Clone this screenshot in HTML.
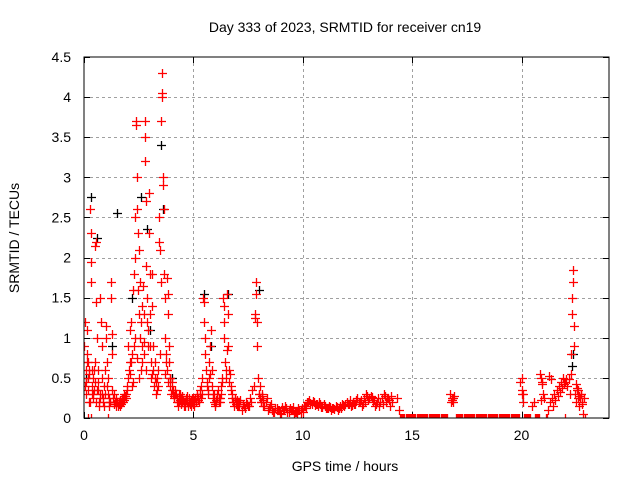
<!DOCTYPE html>
<html><head><meta charset="utf-8"><style>
body{margin:0;background:#fff}
svg{display:block;font-family:"Liberation Sans",sans-serif}
</style></head><body>
<svg id="chart" width="640" height="480" xmlns="http://www.w3.org/2000/svg">
<rect width="640" height="480" fill="#fff"/>
<text x="345" y="32" text-anchor="middle" font-size="14">Day 333 of 2023, SRMTID for receiver cn19</text>
<text x="345" y="471" text-anchor="middle" font-size="14">GPS time / hours</text>
<text transform="translate(19,238) rotate(-90)" text-anchor="middle" font-size="14">SRMTID / TECUs</text>
<g id="grid"></g>
<g id="ticks"></g>
<defs><clipPath id="clip"><rect x="84" y="57" width="525" height="361"/></clipPath></defs>
<g id="marks" clip-path="url(#clip)"></g>
<rect x="84" y="57" width="525" height="361" fill="none" stroke="#000" stroke-width="1"/>
</svg>
<script>
const xTicks=[0,5,10,15,20];
const yTicks=[0,0.5,1,1.5,2,2.5,3,3.5,4,4.5];
const yTickLabels=["0","0.5","1","1.5","2","2.5","3","3.5","4","4.5"];
const redT=[0.02,0.03,0.05,0.07,0.1,0.12,0.15,0.17,0.2,0.22,0.25,0.28,0.3,0.32,0.33,0.35,0.38,0.4,0.42,0.45,0.47,0.5,0.52,0.55,0.57,0.6,0.62,0.65,0.68,0.7,0.72,0.75,0.78,0.8,0.82,0.85,0.88,0.9,0.95,1.0,1.02,1.05,1.08,1.1,1.12,1.15,1.2,1.22,1.25,1.28,1.3,1.35,1.4,1.45,1.5,1.55,1.6,1.65,1.7,1.75,1.8,1.85,1.9,1.95,2.0,2.02,2.05,2.1,2.12,2.15,2.18,2.2,2.25,2.28,2.3,2.32,2.35,2.37,2.38,2.4,2.42,2.45,2.47,2.5,2.52,2.55,2.57,2.6,2.62,2.65,2.67,2.7,2.72,2.75,2.77,2.78,2.8,2.82,2.85,2.87,2.9,2.92,2.95,2.97,3.0,3.02,3.05,3.07,3.1,3.12,3.15,3.17,3.2,3.25,3.3,3.35,3.4,3.42,3.45,3.47,3.5,3.52,3.55,3.57,3.58,3.6,3.62,3.65,3.67,3.7,3.72,3.75,3.78,3.8,3.82,3.85,3.87,3.9,3.92,3.95,4.0,4.05,4.1,4.15,4.2,4.25,4.3,4.35,4.4,4.45,4.5,4.55,4.6,4.65,4.7,4.75,4.8,4.85,4.9,4.95,5.0,5.05,5.1,5.15,5.2,5.25,5.3,5.35,5.4,5.45,5.47,5.5,5.52,5.55,5.58,5.6,5.65,5.7,5.72,5.75,5.8,5.85,5.9,5.95,6.0,6.05,6.1,6.15,6.2,6.25,6.3,6.35,6.38,6.4,6.42,6.45,6.5,6.55,6.58,6.6,6.65,6.7,6.75,6.8,6.85,6.9,6.95,7.0,7.05,7.1,7.2,7.3,7.4,7.5,7.6,7.7,7.75,7.8,7.82,7.85,7.87,7.9,7.92,7.95,8.0,8.05,8.1,8.15,8.2,8.3,8.4,8.5,8.6,8.7,8.8,8.9,9.0,9.1,9.2,9.3,9.4,9.5,9.6,9.7,9.8,9.9,10.0,10.1,10.2,10.3,10.4,10.5,10.6,10.7,10.8,10.9,11.0,11.1,11.2,11.3,11.4,11.5,11.6,11.7,11.8,11.9,12.0,12.1,12.2,12.3,12.4,12.5,12.6,12.7,12.8,12.9,13.0,13.1,13.2,13.3,13.4,13.5,13.6,13.7,13.8,13.9,14.0,14.1,14.3,14.4,16.75,16.8,16.85,16.9,19.95,20.0,20.02,20.05,20.07,20.5,20.55,20.85,20.9,20.95,21.0,21.05,21.2,21.3,21.4,21.5,21.6,21.7,21.8,21.9,22.0,22.1,22.2,22.25,22.27,22.3,22.32,22.35,22.37,22.4,22.42,22.45,22.5,22.55,22.6,22.65,22.7,22.75,22.8,22.85];
const redV=[0.9,1.2,0.4,0.3,0.6,0.8,1.1,0.5,0.7,0.2,0.6,2.6,2.3,1.95,1.7,0.4,0.3,0.5,0.25,0.35,0.6,0.7,2.15,2.2,1.45,1.0,0.45,0.35,0.2,0.15,0.3,1.5,1.2,0.9,0.5,0.25,0.2,0.4,0.6,1.0,1.15,0.7,0.5,0.3,0.2,0.15,0.2,1.7,1.5,1.05,0.8,0.3,0.2,0.15,0.2,0.15,0.2,0.15,0.2,0.25,0.2,0.3,0.25,0.35,0.5,0.9,0.6,1.1,0.7,1.2,0.4,0.8,1.6,1.8,0.9,2.5,2.0,3.7,3.65,3.0,2.6,2.3,1.6,1.3,2.1,1.7,1.0,1.2,0.6,0.9,1.4,1.65,0.8,1.3,3.7,3.5,3.2,2.7,1.9,1.5,1.2,0.9,2.8,2.3,1.8,1.3,0.7,0.5,1.8,1.4,0.9,0.6,0.4,0.5,0.3,0.35,0.6,2.2,2.5,2.1,1.7,3.7,4.3,4.0,4.05,3.0,2.9,2.6,1.8,1.5,1.0,0.8,0.6,1.75,1.55,1.3,0.9,0.7,0.5,0.4,0.35,0.3,0.25,0.35,0.3,0.2,0.15,0.2,0.3,0.25,0.2,0.15,0.2,0.25,0.2,0.15,0.25,0.2,0.15,0.2,0.25,0.15,0.2,0.3,0.25,0.2,0.3,0.4,0.5,1.5,1.45,1.2,1.0,0.8,0.6,0.4,0.3,0.5,0.7,0.9,1.1,0.6,0.3,0.2,0.15,0.2,0.3,0.2,0.25,0.4,0.5,1.5,1.4,1.2,1.0,0.7,0.5,1.55,1.3,0.9,0.6,0.4,0.3,0.2,0.15,0.25,0.2,0.15,0.2,0.15,0.1,0.15,0.2,0.15,0.25,0.35,0.4,1.3,1.25,1.7,1.55,1.2,0.9,0.5,0.3,0.25,0.2,0.3,0.15,0.2,0.1,0.15,0.1,0.08,0.12,0.1,0.05,0.1,0.15,0.08,0.12,0.1,0.05,0.08,0.12,0.1,0.08,0.15,0.2,0.22,0.18,0.2,0.17,0.15,0.18,0.14,0.15,0.12,0.15,0.1,0.12,0.15,0.1,0.15,0.18,0.15,0.2,0.17,0.15,0.2,0.18,0.25,0.2,0.15,0.25,0.3,0.22,0.28,0.2,0.15,0.2,0.15,0.25,0.3,0.2,0.25,0.15,0.2,0.25,0.1,0.3,0.25,0.2,0.28,0.45,0.5,0.35,0.3,0.2,0.15,0.2,0.55,0.5,0.45,0.3,0.25,0.1,0.2,0.25,0.3,0.35,0.4,0.45,0.5,0.45,0.4,0.3,0.55,0.8,1.3,1.5,1.7,1.85,1.15,0.9,0.3,0.2,0.35,0.25,0.15,0.3,0.2,0.05,0.25];
const redT2=[0.08,0.13,0.18,0.23,0.27,0.36,0.43,0.48,0.53,0.58,0.63,0.73,0.83,0.93,0.97,1.07,1.13,1.18,1.27,1.33,1.38,1.43,1.48,1.53,1.58,1.63,1.68,1.73,1.78,1.83,1.88,1.93,1.98,2.08,2.13,2.23,2.33,2.43,2.53,2.63,2.73,2.83,2.93,3.03,3.13,3.23,3.28,3.33,3.38,3.48,3.68,3.73,3.83,3.93,3.97,4.03,4.08,4.13,4.18,4.23,4.28,4.33,4.38,4.43,4.48,4.53,4.58,4.63,4.68,4.73,4.78,4.83,4.88,4.93,4.98,5.03,5.08,5.13,5.18,5.23,5.28,5.33,5.38,5.63,5.68,5.78,5.83,5.88,5.93,5.98,6.03,6.08,6.13,6.18,6.23,6.28,6.33,6.48,6.53,6.63,6.68,6.73,6.78,6.83,6.88,6.93,6.98,7.03,7.08,7.15,7.25,7.35,7.45,7.55,7.65,7.98,8.03,8.08,8.13,8.18,8.25,8.35,8.45,8.55,8.65,8.75,8.85,8.95,9.05,9.15,9.25,9.35,9.45,9.55,9.65,9.75,9.85,9.95,10.05,10.15,10.25,10.35,10.45,10.55,10.65,10.75,10.85,10.95,11.05,11.15,11.25,11.35,11.45,11.55,11.65,11.75,11.85,11.95,12.05,12.15,12.25,12.35,12.45,12.55,12.65,12.75,12.85,12.95,13.05,13.15,13.25,13.35,13.45,13.55,13.65,13.75,13.85,13.95,14.05,16.78,16.82,16.88,20.03,20.88,20.92,21.25,21.35,21.45,21.55,21.65,21.75,21.85,21.95,22.05,22.15,22.48,22.52,22.58,22.62,22.68,22.72,22.78];
const redV2=[0.45,0.7,0.35,0.55,0.2,0.6,0.3,0.45,0.2,0.35,0.6,0.25,0.3,0.15,0.3,0.4,0.25,0.2,0.35,0.25,0.18,0.2,0.25,0.2,0.18,0.22,0.18,0.2,0.25,0.22,0.28,0.3,0.4,0.55,0.7,0.45,1.0,0.75,0.5,0.7,0.95,0.6,1.1,0.9,0.55,0.7,0.45,0.5,0.4,0.8,0.55,0.7,0.45,0.5,0.3,0.45,0.35,0.28,0.3,0.25,0.2,0.3,0.22,0.18,0.28,0.22,0.2,0.15,0.22,0.28,0.2,0.18,0.22,0.25,0.18,0.22,0.25,0.2,0.28,0.22,0.35,0.25,0.3,0.45,0.35,0.55,0.4,0.25,0.3,0.18,0.22,0.25,0.35,0.25,0.2,0.3,0.45,0.6,0.85,0.45,0.55,0.35,0.25,0.2,0.25,0.18,0.22,0.15,0.2,0.22,0.18,0.12,0.18,0.15,0.2,0.3,0.4,0.2,0.28,0.22,0.15,0.25,0.12,0.18,0.08,0.12,0.1,0.06,0.14,0.1,0.12,0.07,0.1,0.14,0.08,0.06,0.1,0.12,0.15,0.12,0.2,0.19,0.21,0.16,0.18,0.2,0.14,0.17,0.13,0.12,0.14,0.13,0.11,0.14,0.13,0.12,0.16,0.17,0.18,0.22,0.16,0.18,0.22,0.2,0.23,0.18,0.2,0.27,0.25,0.26,0.23,0.18,0.25,0.2,0.18,0.28,0.25,0.22,0.28,0.2,0.22,0.25,0.3,0.22,0.42,0.52,0.48,0.15,0.22,0.28,0.33,0.38,0.42,0.48,0.48,0.43,0.38,0.35,0.28,0.25,0.3,0.18,0.22,0.28,0.15];
const zeroT=[0.2,0.3,1.1,9.9,14.45,14.5,14.55,14.6,14.65,14.7,14.75,14.8,14.85,14.9,14.95,15.0,15.05,15.1,15.15,15.2,15.25,15.3,15.35,15.4,15.45,15.5,15.55,15.6,15.65,15.7,15.75,15.8,15.85,15.9,15.95,16.0,16.05,16.1,16.15,16.2,16.25,16.3,16.35,16.4,16.45,16.5,16.55,16.6,17.0,17.05,17.1,17.15,17.2,17.25,17.3,17.35,17.4,17.45,17.5,17.55,17.6,17.65,17.7,17.75,17.8,17.85,17.9,17.95,18.0,18.05,18.1,18.15,18.2,18.25,18.3,18.35,18.4,18.45,18.5,18.55,18.6,18.65,18.7,18.75,18.8,18.85,18.9,18.95,19.0,19.05,19.1,19.15,19.2,19.25,19.3,19.35,19.4,19.45,19.5,19.55,19.6,19.65,19.7,19.75,19.8,19.85,19.9,20.1,20.15,20.2,20.25,20.3,20.35,20.4,20.6,20.65,20.7,20.75,20.8,21.1,21.15,22.0,22.9];
const blackT=[0.3,0.6,1.5,2.6,2.9,3.5,3.6,5.5,6.6,8.0,22.3,22.35,0.1,1.3,2.2,3.0,4.0,5.8];
const blackV=[2.75,2.25,2.55,2.75,2.35,3.4,2.6,1.55,1.55,1.6,0.65,0.8,0.5,0.9,1.5,1.1,0.5,0.9];

const NS="http://www.w3.org/2000/svg";
const X0=84,X1=609,Y0=418,Y1=57;
function xs(t){return X0+(t/24)*(X1-X0);}
function ys(v){return Y0-(v/4.5)*(Y0-Y1);}
const grid=document.getElementById('grid'),ticks=document.getElementById('ticks'),marks=document.getElementById('marks');
function line(p,x1,y1,x2,y2,stroke,dash,name){const l=document.createElementNS(NS,'line');l.setAttribute('x1',x1);l.setAttribute('y1',y1);l.setAttribute('x2',x2);l.setAttribute('y2',y2);l.setAttribute('stroke',stroke);if(dash)l.setAttribute('stroke-dasharray',dash);


p.appendChild(l);}
function text(x,y,s,anchor,name){const t=document.createElementNS(NS,'text');t.setAttribute('x',x);t.setAttribute('y',y);t.setAttribute('text-anchor',anchor);t.setAttribute('font-size','14');t.textContent=s;


ticks.appendChild(t);}
xTicks.forEach(t=>{const x=Math.round(xs(t))+0.5;
 if(t>0)line(grid,x,Y1,x,Y0,'#a0a0a0','3,3','x-grid-line');
 line(ticks,x,Y0,x,Y0-6,'#000',null,'x-tick');line(ticks,x,Y1,x,Y1+6,'#000',null,'x-tick-top');
 text(xs(t),Y0+22,String(t),'middle','x-tick-label');});
yTicks.forEach((v,i)=>{const y=Math.round(ys(v))+0.5;
 if(v>0&&v<4.5)line(grid,X0,y,X1,y,'#a0a0a0','3,3','y-grid-line');
 line(ticks,X0,y,X0+6,y,'#000',null,'y-tick');line(ticks,X1,y,X1-6,y,'#000',null,'y-tick-right');
 text(X0-13,ys(v)+5,yTickLabels[i],'end','y-tick-label');});
function plus(t,v,color,name){const x=Math.round(xs(t))+0.5,y=Math.round(ys(v))+0.5;
 const p=document.createElementNS(NS,'path');p.setAttribute('d','M'+(x-4.5)+' '+y+'H'+(x+4.5)+'M'+x+' '+(y-4.5)+'V'+(y+4.5));p.setAttribute('stroke',color);p.setAttribute('stroke-width','1.3');
 
 
 marks.appendChild(p);}
blackT.forEach((t,i)=>plus(t,blackV[i],'#000','black-point'));
redT.forEach((t,i)=>plus(t,redV[i],'#f00','red-point'));
redT2.forEach((t,i)=>plus(t,redV2[i],'#f00','red-point'));
zeroT.forEach(t=>plus(t,0,'#f00','zero-point'));
</script>
</body></html>
